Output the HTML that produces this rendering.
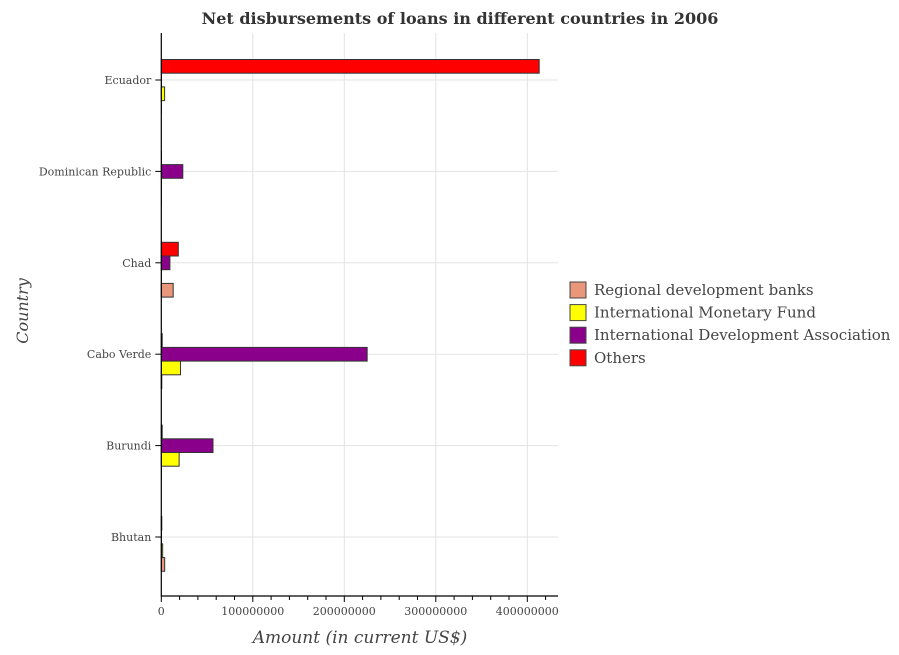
<!DOCTYPE html>
<html><head><meta charset="utf-8"><style>
body{margin:0;background:#fff;}
svg text{font-family:"DejaVu Serif","Liberation Serif",serif;}
</style></head><body>
<svg id="chart" width="899" height="650" xmlns="http://www.w3.org/2000/svg">
<rect width="899" height="650" fill="#fff"/>
<text x="460" y="24" text-anchor="middle" font-size="16" font-weight="bold" fill="#333">Net disbursements of loans in different countries in 2006</text>
<text transform="translate(28,311) rotate(-90)" text-anchor="middle" font-size="16" font-style="italic" fill="#444">Country</text>
<text x="360" y="643" text-anchor="middle" font-size="17" font-style="italic" fill="#444">Amount (in current US$)</text>
<g id="grid"></g><g id="bars"></g><g id="axes"></g><g id="legend"></g>
</svg>
<script>
const categories=["Ecuador","Dominican Republic","Chad","Cabo Verde","Burundi","Bhutan"];
const series=["Others","International Development Association","International Monetary Fund","Regional development banks"];
const colors=["#ff0000","#8b008b","#ffff00","#e9967a"];
const others=[413000000,0,18600000,1000000,1000000,300000];
const ida=[0,23500000,9400000,225000000,56500000,0];
const imf=[3600000,0,0,21000000,19500000,1500000];
const regional=[0,0,13000000,300000,0,3700000];
const xTicks=[0,100000000,200000000,300000000,400000000];
const xTickLabels=["0","100000000","200000000","300000000","400000000"];
const vals=[others,ida,imf,regional];
const X0=161.3,PX=91.5/1e8,TOP=33,BOT=596,RIGHT=558;
const x=v=>X0+v*PX;
const y=i=>80+i*91.4;
const NS="http://www.w3.org/2000/svg";
function mk(p,t,a){const e=document.createElementNS(NS,t);for(const k in a)e.setAttribute(k,a[k]);document.getElementById(p).appendChild(e);return e;}
xTicks.forEach((t,i)=>{
 const g=mk("grid","line",{x1:x(t),x2:x(t),y1:TOP,y2:BOT,stroke:"#e3e3e3"});
 
 
});
categories.forEach((c,i)=>{
 const g=mk("grid","line",{x1:X0,x2:RIGHT,y1:y(i),y2:y(i),stroke:"#e3e3e3"});
 
 
});
const BH=13.7;
categories.forEach((c,i)=>{
 vals.forEach((arr,s)=>{
  const top=y(i)-20.5+s*BH;
  const v=arr[i];
  const r=mk("bars","rect",{x:X0,y:top,width:Math.max(x(v)-X0,0.5),height:BH,fill:colors[s],stroke:"#333","stroke-width":v>0?1:0.3});
  
  
 });
 const l=mk("axes","line",{x1:X0-6,x2:X0,y1:y(i),y2:y(i),stroke:"#000"});
 
 
 const t=mk("axes","text",{x:X0-10,y:y(i)+4,"text-anchor":"end","font-size":"11",fill:"#444"});
 t.textContent=c;
 
 
});
const ax=mk("axes","path",{d:`M${X0},${TOP}V${BOT}H${RIGHT}`,fill:"none",stroke:"#000","stroke-width":1.2});


for(let v=0;v<=430000000;v+=20000000){
 const m=mk("axes","line",{x1:x(v),x2:x(v),y1:BOT,y2:BOT+(v%100000000===0?6:4),stroke:"#000"});
 
 
}
xTicks.forEach((t,i)=>{
 const e=mk("axes","text",{x:x(t),y:615,"text-anchor":"middle","font-size":"11",fill:"#444"});
 e.textContent=xTickLabels[i];
 
 
});
const legItems=["Regional development banks","International Monetary Fund","International Development Association","Others"];
const legCols=["#e9967a","#ffff00","#8b008b","#ff0000"];
legItems.forEach((n,i)=>{
 const cy=290+i*22.6;
 const r=mk("legend","rect",{x:570,y:cy-8,width:16,height:16,fill:legCols[i],stroke:"#444"});
 
 
 const t=mk("legend","text",{x:594,y:cy+5,"font-size":"15",fill:"#444"});
 t.textContent=n;
 
 
});
</script>
</body></html>
